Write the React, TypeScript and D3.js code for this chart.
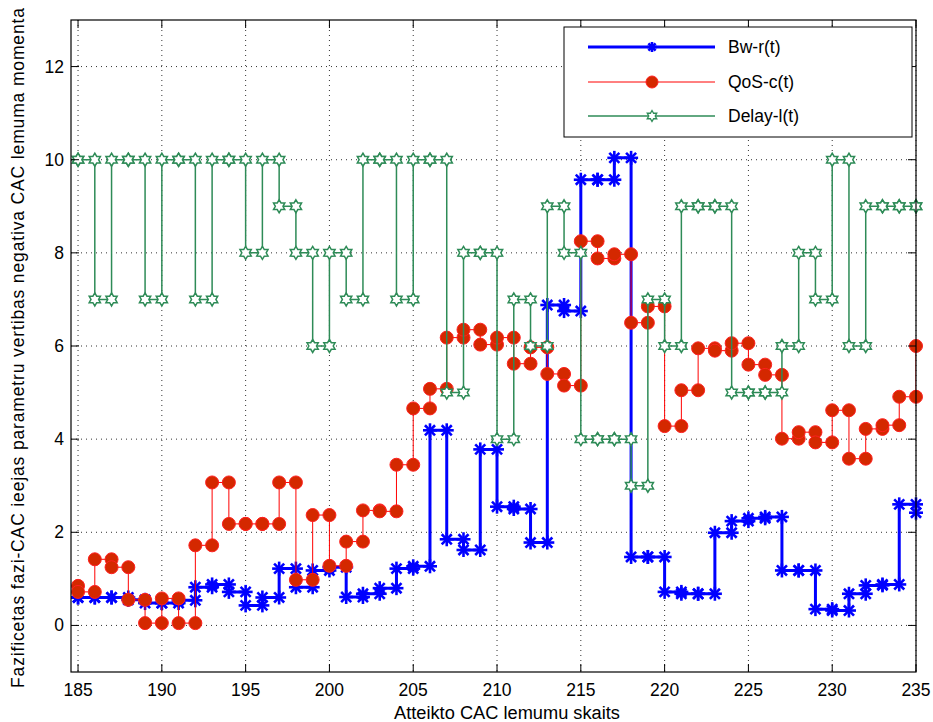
import React from "react";
import * as d3 from "d3";

const xStart = 184;
const bwValues = [0.6, 0.6, 0.6, 0.6, 0.55, 0.48, 0.48, 0.54, 0.82, 0.88, 0.72, 0.43, 0.6, 1.22, 0.82, 1.18, 1.25, 0.61, 0.68, 0.8, 1.22, 1.27, 4.19, 1.85, 1.62, 3.78, 2.55, 2.5, 1.78, 6.88, 6.75, 9.57, 9.57, 10.04, 1.47, 1.47, 0.72, 0.68, 0.68, 1.99, 2.24, 2.3, 2.33, 1.18, 1.18, 0.35, 0.32, 0.68, 0.86, 0.88, 2.6, 2.42];
const qosValues = [0.85, 0.72, 1.42, 1.25, 0.55, 0.05, 0.58, 0.05, 1.72, 3.07, 2.18, 2.18, 2.18, 3.07, 0.98, 2.37, 1.28, 1.8, 2.47, 2.45, 3.45, 4.66, 5.08, 6.18, 6.35, 6.03, 6.18, 5.62, 5.97, 5.4, 5.15, 8.25, 7.88, 7.97, 6.5, 6.85, 4.28, 5.05, 5.95, 5.9, 6.06, 5.6, 5.38, 4.01, 4.15, 3.93, 4.62, 3.58, 4.22, 4.3, 4.91, 6.0];
const delayValues = [10, 10, 7, 10, 10, 7, 10, 10, 7, 10, 10, 8, 10, 9, 8, 6, 8, 7, 10, 10, 7, 10, 10, 5, 8, 8, 4, 7, 6, 9, 8, 4, 4, 4, 3, 7, 6, 9, 9, 9, 5, 5, 5, 6, 8, 7, 10, 6, 9, 9, 9, 9];
const xTicks = [185, 190, 195, 200, 205, 210, 215, 220, 225, 230, 235];
const yTicks = [0, 2, 4, 6, 8, 10, 12];
const seriesNames = ["Bw-r(t)", "QoS-c(t)", "Delay-l(t)"];

const W = 933, H = 722;
const L = 71, R = 916, T = 20, B = 672;
const FONT = "'Liberation Sans Narrow', 'Liberation Sans', Arial, sans-serif";

const x = d3.scaleLinear().domain([184.58, 235]).range([L, R]);
const y = d3.scaleLinear().domain([-1, 13]).range([B, T]);

function stairPoints(vals: number[]): [number, number][] {
  const pts: [number, number][] = [];
  vals.forEach((v, i) => {
    pts.push([xStart + i, v]);
    if (i < vals.length - 1) pts.push([xStart + i + 1, v]);
  });
  return pts;
}

const line = d3.line<[number, number]>().x((d) => x(d[0])).y((d) => y(d[1]));

function Asterisk({ cx, cy, s = 7 }: { cx: number; cy: number; s?: number }) {
  const d = s * 0.72;
  return (
    <g stroke="#0000ff" strokeWidth={2.6}>
      <line x1={cx - s} y1={cy} x2={cx + s} y2={cy} />
      <line x1={cx} y1={cy - s} x2={cx} y2={cy + s} />
      <line x1={cx - d} y1={cy - d} x2={cx + d} y2={cy + d} />
      <line x1={cx - d} y1={cy + d} x2={cx + d} y2={cy - d} />
    </g>
  );
}

function hexagramPath(cx: number, cy: number, ro: number, ri: number) {
  const pts: string[] = [];
  for (let k = 0; k < 12; k++) {
    const r = k % 2 === 0 ? ro : ri;
    const a = (Math.PI / 6) * k - Math.PI / 2;
    pts.push(`${cx + r * Math.cos(a)},${cy + r * Math.sin(a)}`);
  }
  return "M" + pts.join("L") + "Z";
}

export default function App() {
  const bwPts = stairPoints(bwValues);
  const qosPts = stairPoints(qosValues);
  const delayPts = stairPoints(delayValues);
  const vis = (p: [number, number]) => p[0] >= 184.58;

  return (
    <svg width={W} height={H} style={{ position: "absolute", left: 0, top: 0, background: "#fff" }} fontFamily={FONT}>
      <defs>
        <clipPath id="plotclip">
          <rect x={L} y={T} width={R - L} height={B - T} />
        </clipPath>
      </defs>
      <rect x={0} y={0} width={W} height={H} fill="#fff" />
      {/* grid */}
      <g stroke="#000" strokeWidth={1} strokeDasharray="1,4" opacity={0.8}>
        {xTicks.map((t) => (
          <line key={"gx" + t} x1={x(t)} x2={x(t)} y1={T} y2={B} />
        ))}
        {yTicks.map((t) => (
          <line key={"gy" + t} x1={L} x2={R} y1={y(t)} y2={y(t)} />
        ))}
      </g>
      {/* series */}
      <g clipPath="url(#plotclip)" fill="none">
        <path d={line(bwPts) || ""} stroke="#0000ff" strokeWidth={3} />
      </g>
      {bwPts.filter(vis).map((p, i) => (
        <Asterisk key={"b" + i} cx={x(p[0])} cy={y(p[1])} />
      ))}
      <g clipPath="url(#plotclip)" fill="none">
        <path d={line(qosPts) || ""} stroke="#ff0000" strokeWidth={1} />
      </g>
      {qosPts.filter(vis).map((p, i) => (
        <circle key={"q" + i} cx={x(p[0])} cy={y(p[1])} r={6.5} fill="#d42800" stroke="#ff2020" strokeWidth={1} />
      ))}
      <g clipPath="url(#plotclip)" fill="none">
        <path d={line(delayPts) || ""} stroke="#2e8b57" strokeWidth={1.5} />
      </g>
      {delayPts.filter(vis).map((p, i) => (
        <path key={"d" + i} d={hexagramPath(x(p[0]), y(p[1]), 6.5, 3.8)} fill="#fff" stroke="#2e8b57" strokeWidth={1.5} />
      ))}
      {/* axes box */}
      <rect x={L} y={T} width={R - L} height={B - T} fill="none" stroke="#000" strokeWidth={1.2} />
      <g stroke="#000" strokeWidth={1}>
        {xTicks.map((t) => (
          <g key={"tx" + t}>
            <line x1={x(t)} x2={x(t)} y1={B} y2={B - 8} />
            <line x1={x(t)} x2={x(t)} y1={T} y2={T + 8} />
          </g>
        ))}
        {yTicks.map((t) => (
          <g key={"ty" + t}>
            <line x1={L} x2={L + 8} y1={y(t)} y2={y(t)} />
            <line x1={R} x2={R - 8} y1={y(t)} y2={y(t)} />
          </g>
        ))}
      </g>
      {xTicks.map((t) => (
        <text key={"lx" + t} x={x(t)} y={B + 24} textAnchor="middle" fontSize={17.5} fill="#000">
          {t}
        </text>
      ))}
      {yTicks.map((t) => (
        <text key={"ly" + t} x={L - 7} y={y(t) + 6} textAnchor="end" fontSize={17.5} fill="#000">
          {t}
        </text>
      ))}
      <text x={507} y={H - 3} textAnchor="middle" fontSize={18} textLength={226} lengthAdjust="spacingAndGlyphs" fill="#000">
        Atteikto CAC lemumu skaits
      </text>
      <text transform={`translate(24, 348) rotate(-90)`} textAnchor="middle" fontSize={17.5} textLength={680} lengthAdjust="spacing" fill="#000">
        Fazificetas fazi-CAC ieejas parametru vertibas negativa CAC lemuma momenta
      </text>
      {/* legend */}
      <g>
        <rect x={564} y={27} width={348} height={110} fill="#fff" stroke="#000" strokeWidth={1} />
        <line x1={588} x2={715} y1={47} y2={47} stroke="#0000ff" strokeWidth={3} />
        <Asterisk cx={652} cy={47} s={5} />
        <line x1={588} x2={715} y1={82} y2={82} stroke="#ff0000" strokeWidth={1} />
        <circle cx={652} cy={82} r={6} fill="#d42800" stroke="#ff2020" />
        <line x1={588} x2={715} y1={116} y2={116} stroke="#2e8b57" strokeWidth={1.5} />
        <path d={hexagramPath(652, 116, 5.5, 3.2)} fill="#fff" stroke="#2e8b57" strokeWidth={1.3} />
        {seriesNames.map((n, i) => (
          <text key={n} x={728} y={[47, 82, 116][i] + 6} fontSize={17.5} fill="#000">
            {n}
          </text>
        ))}
      </g>
    </svg>
  );
}
